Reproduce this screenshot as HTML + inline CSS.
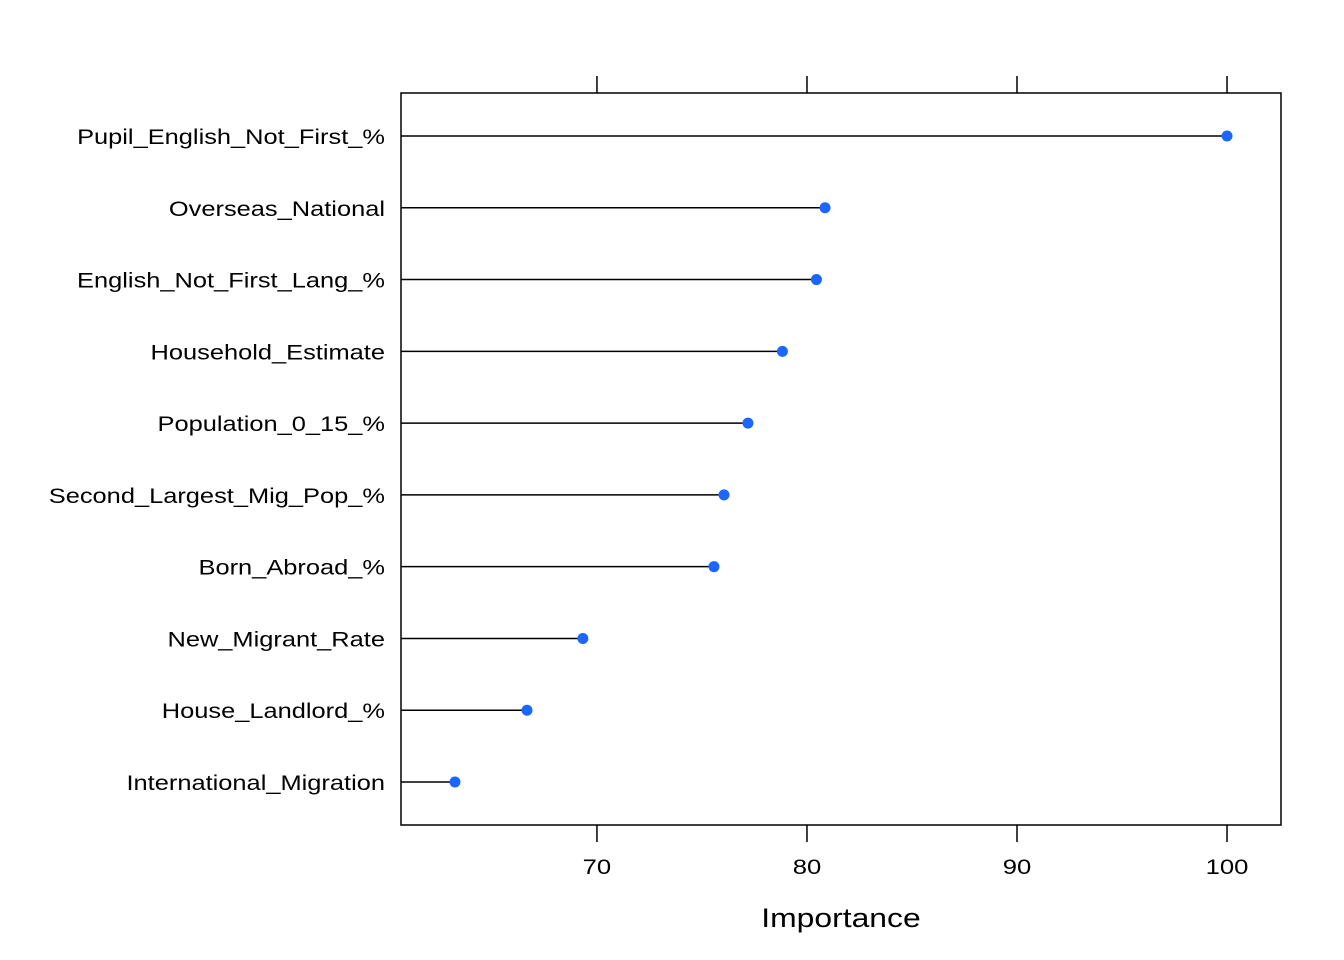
<!DOCTYPE html>
<html><head><meta charset="utf-8"><style>
html,body{margin:0;padding:0;background:#fff;}
svg{display:block;font-family:"Liberation Sans",Arial,sans-serif;}
</style></head><body>
<svg id="chart" width="1344" height="960" xmlns="http://www.w3.org/2000/svg"></svg>
<script>
const categories=["Pupil_English_Not_First_%","Overseas_National","English_Not_First_Lang_%","Household_Estimate","Population_0_15_%","Second_Largest_Mig_Pop_%","Born_Abroad_%","New_Migrant_Rate","House_Landlord_%","International_Migration"];
const importance=[100,80.86,80.45,78.83,77.19,76.05,75.57,69.33,66.67,63.24];
const tickValues=[70,80,90,100];
const tickLabels=["70","80","90","100"];

const NS="http://www.w3.org/2000/svg";
const svg=document.getElementById('chart');
const L=401,R=1281,T=93,B=825;
const xMin=60.67,xMax=102.57;
function xs(v){return L+(v-xMin)/(xMax-xMin)*(R-L);}
function ys(i){return 136+i*71.78;}
function mk(tag,attrs,parent){const e=document.createElementNS(NS,tag);for(const k in attrs)e.setAttribute(k,attrs[k]);(parent||svg).appendChild(e);return e;}
function stretch(el,f){const w=el.getComputedTextLength();el.setAttribute('textLength',w*f);el.setAttribute('lengthAdjust','spacingAndGlyphs');}

const frame=mk('rect',{x:L,y:T,width:R-L,height:B-T,fill:'none',stroke:'#000','stroke-width':1.5});



tickValues.forEach((v,i)=>{
  const x=xs(v);
  const t1=mk('line',{x1:x,x2:x,y1:76,y2:T,stroke:'#000','stroke-width':1.5});
  
  
  const t2=mk('line',{x1:x,x2:x,y1:B,y2:842,stroke:'#000','stroke-width':1.5});
  
  
  const lb=mk('text',{x:x,y:874,'text-anchor':'middle','font-size':21,fill:'#000'});
  lb.textContent=tickLabels[i];
  
  
  stretch(lb,1.22);
});

categories.forEach((c,i)=>{
  const y=ys(i);
  const lb=mk('text',{x:385,y:y+8,'text-anchor':'end','font-size':21,fill:'#000'});
  lb.textContent=c;
  
  
  stretch(lb,1.21);
  const ln=mk('line',{x1:L,x2:xs(importance[i]),y1:y,y2:y,stroke:'#000','stroke-width':1.5});
  
  
  const pt=mk('circle',{cx:xs(importance[i]),cy:y,r:5.5,fill:'#1a66ff'});
  
  
});

const title=mk('text',{x:841,y:927,'text-anchor':'middle','font-size':27,fill:'#000'});
title.textContent='Importance';


stretch(title,1.18);
</script>
</body></html>
